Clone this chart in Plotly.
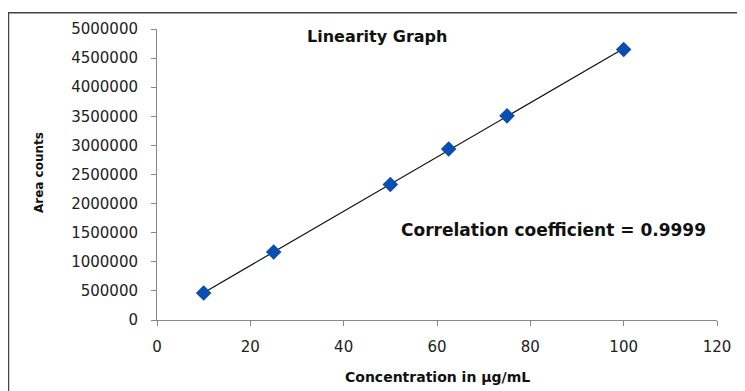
import numpy as np
import plotly.graph_objects as go

concentration = [10, 25, 50, 62.5, 75, 100]
area_counts = [463000, 1169000, 2327000, 2937000, 3508000, 4649000]
x_ticks = [0, 20, 40, 60, 80, 100, 120]
y_ticks = [0, 500000, 1000000, 1500000, 2000000, 2500000, 3000000, 3500000, 4000000, 4500000, 5000000]

slope, intercept = np.polyfit(concentration, area_counts, 1)
fit_x = [min(concentration), max(concentration)]
fit_y = [slope * v + intercept for v in fit_x]

OFF = 8  # page body margin
W, H = 745 - OFF, 391 - OFF
L, R, T, B = 157 - OFF, 28, 25 - OFF, 71
pw, ph = W - L - R, H - T - B

def px(xs):  # screen pixel -> paper x
    return (xs - OFF - L) / pw

def py(ys):  # screen pixel -> paper y
    return (H - B - (ys - OFF)) / ph

fig = go.Figure()
fig.add_trace(go.Scatter(x=fit_x, y=fit_y, mode="lines",
                         line=dict(color="#111111", width=1.2), showlegend=False, hoverinfo="skip"))
fig.add_trace(go.Scatter(x=concentration, y=area_counts, mode="markers",
                         marker=dict(symbol="diamond", size=12, color="#0a4fb0"), showlegend=False))

font = "DejaVu Sans"
fig.update_layout(
    width=W, height=H,
    margin=dict(l=L, r=R, t=T, b=B),
    paper_bgcolor="white", plot_bgcolor="white",
    xaxis=dict(range=[0, 120], tickvals=x_ticks, ticktext=[str(v) for v in x_ticks],
               showgrid=False, zeroline=False, showline=True, linecolor="#888888", linewidth=1,
               ticks="outside", ticklen=5, tickcolor="#888888", ticklabelstandoff=8,
               tickfont=dict(family=font, size=15, color="#222222")),
    yaxis=dict(range=[0, 5000000], tickvals=y_ticks, ticktext=[str(v) for v in y_ticks],
               showgrid=False, zeroline=False, showline=True, linecolor="#888888", linewidth=1,
               ticks="outside", ticklen=5, tickcolor="#888888", ticklabelstandoff=10,
               tickfont=dict(family=font, size=15, color="#222222")),
    shapes=[dict(type="rect", xref="paper", yref="paper",
                 x0=px(8.5), x1=px(800), y0=py(450), y1=py(8.5),
                 line=dict(color="#444444", width=1.5), fillcolor="rgba(0,0,0,0)", layer="below")],
    annotations=[
        dict(text="<b>Linearity Graph</b>", xref="paper", yref="paper", x=px(305), y=py(33),
             xanchor="left", yanchor="middle", showarrow=False,
             font=dict(family=font, size=16, color="#111111")),
        dict(text="<b>Correlation coefficient = 0.9999</b>", xref="paper", yref="paper",
             x=px(399), y=py(229), xanchor="left", yanchor="middle", showarrow=False,
             font=dict(family=font, size=17, color="#111111")),
        dict(text="<b>Concentration in µg/mL</b>", xref="paper", yref="paper",
             x=px(437), y=py(378), xanchor="center", yanchor="middle", showarrow=False,
             font=dict(family=font, size=14, color="#111111")),
        dict(text="<b>Area counts</b>", xref="paper", yref="paper", textangle=-90,
             x=px(39), y=py(171), xanchor="center", yanchor="middle", showarrow=False,
             font=dict(family=font, size=12, color="#111111")),
    ],
)

fig.write_html("out.html")
